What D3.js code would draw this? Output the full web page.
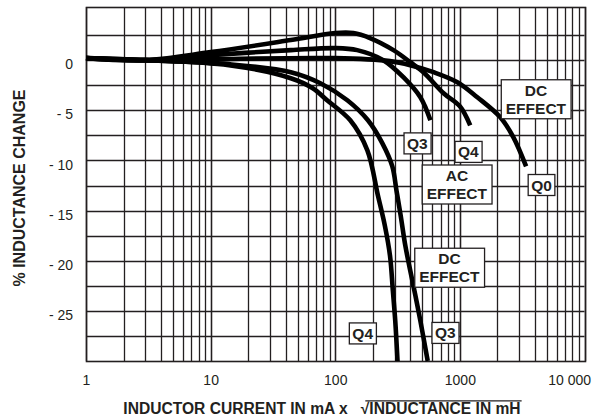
<!DOCTYPE html>
<html>
<head>
<meta charset="utf-8">
<script src="https://cdn.jsdelivr.net/npm/d3@7"></script>
<style>
  body { margin: 0; background: #fff; }
  text { font-family: "Liberation Sans", Arial, sans-serif; fill: #231f20; }
</style>
</head>
<body>
<script>

// ---- data ----
const xTicks = [1, 10, 100, 1000, 10000]
const xTickLabels = ["1", "10", "100", "1000", "10 000"]
const yTicks = [0, -5, -10, -15, -20, -25]
const yTickLabels = ["0", "- 5", "- 10", "- 15", "- 20", "- 25"]
const yGrid = [2.5, 0, -2.5, -5, -7.5, -10, -12.5, -15, -17.5, -20, -22.5, -25, -27.5]

// [current, % change]
const acQ4 = [[1, 0.2], [3, 0], [10, 0.8], [44, 2.0], [100, 2.7], [140, 2.7], [190, 2.2], [293, 1.0], [400, -0.2], [510, -1.2], [740, -3.3], [1000, -4.6], [1210, -6.5]]
const acQ3 = [[1, 0.2], [3, 0], [10, 0.5], [44, 1.0], [100, 1.2], [150, 1.0], [243, 0], [352, -1.7], [482, -3.7], [580, -6.0]]
const dcQ0 = [[1, 0.2], [3, 0], [10, 0.1], [100, 0.2], [275, -0.1], [400, -0.5], [615, -1.2], [955, -2.2], [1380, -3.7], [2110, -5.7], [2690, -7.7], [3400, -10.6]]
const dcQ4 = [[1, 0.2], [3, 0], [14, -0.5], [44, -1.8], [66, -2.8], [86, -4.0], [132, -6.0], [181, -9.0], [220, -13.5], [250, -16.5], [275, -19.5], [290, -23], [303, -26], [316, -30]]
const dcQ3 = [[1, 0.2], [3, 0], [14, -0.4], [44, -1.2], [76, -2.3], [125, -4.0], [183, -6.0], [239, -8.3], [287, -10.6], [310, -13], [335, -15.5], [365, -18.5], [400, -21], [440, -23.5], [482, -26], [552, -30]]
const curves = [acQ4, acQ3, dcQ0, dcQ4, dcQ3]

// callout boxes: text lines, centre in data units
const labelLines = [["DC", "EFFECT"], ["Q3"], ["Q4"], ["AC", "EFFECT"], ["Q0"], ["DC", "EFFECT"], ["Q4"], ["Q3"]]
const labelX = [4075, 456, 1170, 946, 4520, 824, 166, 764]
const labelY = [-3.9, -8.3, -9.15, -12.4, -12.45, -20.7, -27.25, -27.2]

// ---- layout ----
const width = 592, height = 420
const margin = ({top: 7, right: 7.5, bottom: 59, left: 86})
const ink = "#231f20"
const px = v => Math.round(v) + 0.5 // keep 1px grid lines sharp

const svg = d3.select("body").append("svg")
    .attr("width", width).attr("height", height)

const x = d3.scaleLog()
    .domain([1, 10000])
    .range([margin.left, width - margin.right])

const y = d3.scaleLinear()
    .domain([-30, 5.3])
    .range([height - margin.bottom, margin.top])

// grid: every log minor tick + 2.5 % steps
const xGrid = []
for (let d = 1; d < 10000; d *= 10)
    for (let k = 1; k <= 10; k++) xGrid.push(d * k)

svg.append("g")
    .attr("stroke", ink).attr("stroke-width", 1.3)
    .selectAll("line").data(xGrid).join("line")
    .attr("x1", d => px(x(d))).attr("x2", d => px(x(d)))
    .attr("y1", y.range()[1]).attr("y2", y.range()[0])

svg.append("g")
    .attr("stroke", ink).attr("stroke-width", 1.3)
    .selectAll("line").data(yGrid).join("line")
    .attr("x1", x.range()[0]).attr("x2", x.range()[1])
    .attr("y1", d => px(y(d))).attr("y2", d => px(y(d)))

svg.append("rect")
    .attr("x", px(x.range()[0])).attr("y", px(y.range()[1]))
    .attr("width", Math.round(x.range()[1] - x.range()[0]))
    .attr("height", Math.round(y.range()[0] - y.range()[1]))
    .attr("fill", "none").attr("stroke", ink).attr("stroke-width", 1.6)

// axes (labels only, the grid already draws the lines)
const gx = svg.append("g")
    .attr("transform", `translate(0,${y.range()[0]})`)
    .call(d3.axisBottom(x).tickValues(xTicks)
        .tickFormat((d, i) => xTickLabels[i]).tickSize(0).tickPadding(14))
gx.select(".domain").remove()
gx.selectAll(".tick:last-of-type text")
    .attr("text-anchor", "end").attr("dx", 6)

const gy = svg.append("g")
    .attr("transform", `translate(${x.range()[0]},0)`)
    .call(d3.axisLeft(y).tickValues(yTicks)
        .tickFormat((d, i) => yTickLabels[i]).tickSize(0).tickPadding(13))
gy.select(".domain").remove()
gy.selectAll(".tick text").attr("dy", "0.62em")

svg.selectAll(".tick text")
    .attr("font-family", "Liberation Sans, Arial, sans-serif")
    .attr("font-size", 14).attr("fill", ink)

// curves
const line = d3.line()
    .x(d => x(d[0])).y(d => y(d[1]))
    .curve(d3.curveCatmullRom.alpha(0.5))

svg.append("g")
    .selectAll("path").data(curves).join("path")
    .attr("d", line)
    .attr("fill", "none").attr("stroke", "#000")
    .attr("stroke-width", 4.6)

// callouts
const lab = svg.append("g").selectAll("g").data(labelLines).join("g")
    .attr("transform", (d, i) => `translate(${x(labelX[i])},${y(labelY[i])})`)

lab.each(function(lines) {
    const g = d3.select(this)
    const lh = 17.5
    const t = g.append("text")
        .attr("text-anchor", "middle")
        .attr("font-size", 15.5).attr("font-weight", "bold")
    lines.forEach((s, j) => {
        t.append("tspan").attr("x", 0)
            .attr("y", (j - (lines.length - 1) / 2) * lh + 5.5)
            .text(s)
    })
    const bb = t.node().getBBox()
    const padX = lines.length > 1 ? 4.5 : 3
    g.insert("rect", "text")
        .attr("x", bb.x - padX).attr("width", bb.width + 2 * padX)
        .attr("y", lines.length > 1 ? -19.5 : -10.5)
        .attr("height", lines.length > 1 ? 39 : 21)
        .attr("fill", "#fff").attr("stroke", ink).attr("stroke-width", 1.3)
})

// axis titles
svg.append("text")
    .attr("transform", `translate(25,${(y.range()[0] + y.range()[1]) / 2 + 4}) rotate(-90)`)
    .attr("text-anchor", "middle")
    .attr("font-size", 16).attr("font-weight", "bold")
    .text("% INDUCTANCE CHANGE")

const xt = svg.append("text")
    .attr("x", 322)
    .attr("y", 414)
    .attr("text-anchor", "middle")
    .attr("font-size", 15.6).attr("font-weight", "bold")
xt.append("tspan").text("INDUCTOR CURRENT IN mA x \u00a0\u00a0\u221a")
const under = xt.append("tspan").text("INDUCTANCE IN mH")

const ub = under.node().getBBox()
svg.append("line")
    .attr("x1", ub.x - 4).attr("x2", ub.x + ub.width + 1)
    .attr("y1", ub.y + 0.8).attr("y2", ub.y + 0.8)
    .attr("stroke", ink).attr("stroke-width", 1.2)

</script>
</body>
</html>
